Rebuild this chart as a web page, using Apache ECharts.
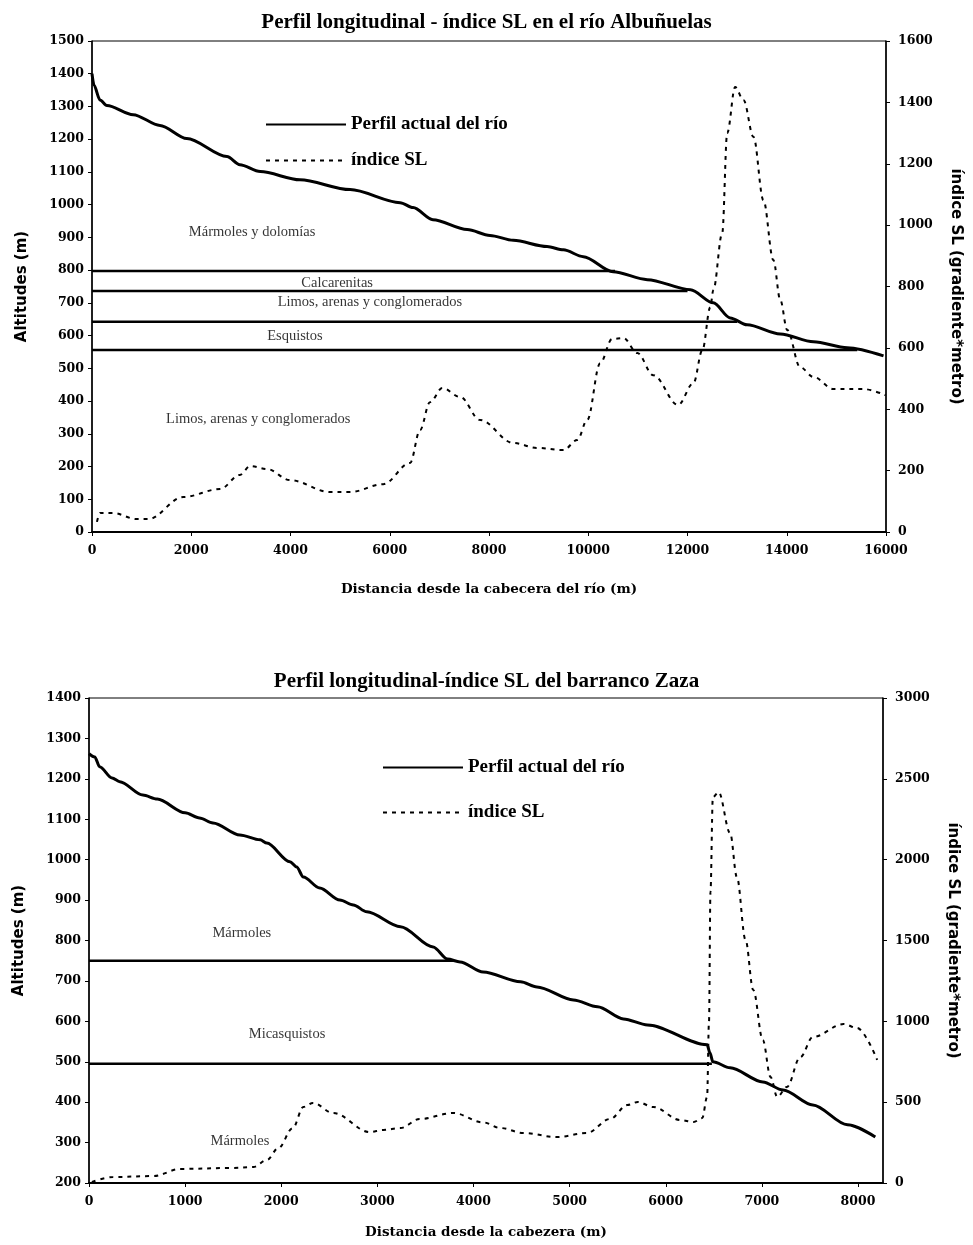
<!DOCTYPE html>
<html>
<head>
<meta charset="utf-8">
<script src="https://cdn.jsdelivr.net/npm/echarts@6/dist/echarts.min.js"></script>
<style>
html,body{margin:0;padding:0;background:#fff;}
#c1{position:absolute;left:0;top:0;width:973px;height:620px;}
#c2{position:absolute;left:0;top:620px;width:973px;height:625px;}
</style>
</head>
<body>
<div id="c1"></div>
<div id="c2"></div>
<script>
// ---------- Chart A: río Albuñuelas ----------
const titleA = 'Perfil longitudinal - índice SL en el río Albuñuelas';
const xNameA = 'Distancia desde la cabecera del río (m)';
const profA_x = [0, 40, 160, 300, 830, 1370, 1910, 2720, 2980, 3390, 4190, 5200, 6210, 6470, 6870, 7560, 8020, 8490, 9170, 9500, 9900, 10500, 11190, 12060, 12520, 12860, 13200, 13870, 14540, 15220, 15950];
const profA_y = [1400, 1365, 1320, 1303, 1275, 1242, 1202, 1147, 1122, 1101, 1076, 1046, 1006, 991, 954, 924, 906, 891, 872, 862, 841, 795, 771, 740, 700, 654, 633, 605, 581, 563, 538];
const slA_x = [100, 160, 420, 900, 1130, 1840, 2580, 2980, 3190, 3530, 3990, 4800, 5200, 5870, 6410, 6610, 6810, 7060, 7420, 7820, 8490, 8970, 9500, 9780, 9980, 10240, 10480, 10710, 10990, 11310, 11810, 12120, 12300, 12460, 12520, 12700, 12800, 12960, 13130, 13330, 13530, 13730, 13870, 14010, 14270, 14540, 14940, 15540, 15990];
const slA_y = [33, 62, 62, 42, 42, 114, 140, 186, 215, 205, 169, 130, 130, 156, 225, 332, 423, 469, 440, 365, 290, 274, 267, 300, 365, 550, 629, 632, 583, 511, 414, 485, 593, 733, 788, 974, 1300, 1450, 1407, 1287, 1081, 886, 756, 658, 537, 505, 466, 466, 446];
const layerA_alt = [797, 736, 642, 556];
const layerA_end = [10540, 12000, 13000, 15420];
const labelA_text = ['Mármoles y dolomías', 'Calcarenitas', 'Limos, arenas y conglomerados', 'Esquistos', 'Limos, arenas y conglomerados'];
const labelA_x = [3226, 4940, 5600, 4090, 3350];
const labelA_y = [917, 761, 703, 599, 346];

// ---------- Chart B: barranco Zaza ----------
const titleB = 'Perfil longitudinal-índice SL del barranco Zaza';
const xNameB = 'Distancia desde la cabezera (m)';
const profB_x = [0, 60, 110, 240, 320, 560, 710, 1000, 1150, 1290, 1570, 1780, 1850, 2090, 2160, 2230, 2400, 2610, 2750, 2890, 3240, 3580, 3730, 3860, 4100, 4490, 4660, 5040, 5290, 5560, 5810, 6430, 6460, 6490, 6670, 7010, 7220, 7530, 7890, 8180];
const profB_y = [1262, 1254, 1230, 1202, 1193, 1160, 1150, 1116, 1103, 1091, 1061, 1049, 1041, 995, 982, 957, 930, 900, 888, 871, 834, 784, 754, 747, 722, 698, 685, 653, 636, 606, 591, 542, 522, 500, 485, 450, 430, 393, 344, 314];
const slB_x = [30, 250, 670, 950, 1500, 1710, 1850, 1970, 2120, 2230, 2330, 2540, 2920, 3060, 3240, 3440, 3790, 4100, 4280, 4520, 4870, 5180, 5420, 5600, 5710, 5870, 6150, 6290, 6380, 6430, 6450, 6465, 6490, 6550, 6670, 6740, 6830, 6910, 7010, 7090, 7160, 7260, 7400, 7530, 7850, 7990, 8200];
const slB_y = [6, 37, 43, 87, 93, 99, 142, 216, 340, 470, 495, 433, 315, 328, 340, 396, 433, 375, 340, 309, 284, 309, 396, 482, 501, 470, 390, 377, 402, 532, 1000, 1800, 2387, 2418, 2164, 1892, 1503, 1194, 884, 656, 532, 594, 779, 903, 983, 959, 761];
const layerB_alt = [750, 495];
const layerB_end = [3790, 6480];
const labelB_text = ['Mármoles', 'Micasquistos', 'Mármoles'];
const labelB_x = [1590, 2060, 1570];
const labelB_y = [819, 569, 304];

const legendNames = ['Perfil actual del río', 'índice SL'];
const yNameL = 'Altitudes (m)';
const yNameR = 'índice SL (gradiente*metro)';

const zip = (a, b) => a.map((v, i) => [v, b[i]]);
const serif = 'Liberation Serif';
const tickFont = {fontFamily: 'DejaVu Serif', fontWeight: 'bold', fontSize: 12.5, color: '#000', formatter: v => String(v)};

function build(cfg) {
  const series = [];
  series.push({
    name: legendNames[0], type: 'line', xAxisIndex: 0, yAxisIndex: 0,
    data: zip(cfg.profX, cfg.profY), showSymbol: false, symbol: 'none',
    smooth: 0.3, smoothMonotone: 'x',
    itemStyle: {color: '#000'},
    lineStyle: {color: '#000', width: 3}, z: 5
  });
  series.push({
    name: legendNames[1], type: 'line', xAxisIndex: 0, yAxisIndex: 1,
    data: zip(cfg.slX, cfg.slY), showSymbol: false, symbol: 'none',
    smooth: 0.35, smoothMonotone: 'x',
    itemStyle: {color: '#000'},
    lineStyle: {color: '#000', width: 2, type: [4, 5]}, z: 4
  });
  cfg.layerAlt.forEach((alt, i) => {
    series.push({
      type: 'line', xAxisIndex: 0, yAxisIndex: 0, silent: true,
      data: [[0, alt], [cfg.layerEnd[i], alt]], showSymbol: false, symbol: 'none',
      lineStyle: {color: '#000', width: 2.5}, z: 3
    });
  });
  series.push({
    type: 'scatter', xAxisIndex: 0, yAxisIndex: 0, silent: true,
    symbolSize: 1, itemStyle: {color: 'rgba(0,0,0,0)'},
    data: cfg.labText.map((t, i) => ({name: t, value: [cfg.labX[i], cfg.labY[i]]})),
    label: {show: true, position: 'inside', formatter: p => p.name,
      fontFamily: serif, fontSize: 14.5, color: '#000', textBorderWidth: 0},
    z: 6
  });
  return {
    animation: false,
    backgroundColor: '#fff',
    title: {text: cfg.title, left: 'center', top: cfg.titleTop,
      textStyle: {fontFamily: serif, fontWeight: 'bold', fontSize: 21, color: '#000'}},
    legend: {
      data: legendNames, orient: 'vertical', left: cfg.legLeft, top: cfg.legTop,
      itemWidth: 80, itemHeight: 14, itemGap: cfg.legGap, selectedMode: false,
      itemStyle: {opacity: 0},
      textStyle: {fontFamily: serif, fontWeight: 'bold', fontSize: 19, color: '#000'}
    },
    grid: {left: cfg.grid[0], right: cfg.grid[1], top: cfg.grid[2], bottom: cfg.grid[3],
      show: true, borderColor: '#000', borderWidth: 1, backgroundColor: 'transparent'},
    xAxis: [{
      type: 'value', min: 0, max: cfg.xMax, interval: cfg.xInt,
      name: cfg.xName, nameLocation: 'middle', nameGap: cfg.xNameGap,
      nameTextStyle: {fontFamily: 'DejaVu Serif', fontWeight: 'bold', fontSize: 13.5, color: '#000'},
      axisLine: {lineStyle: {color: '#000', width: 2}},
      axisTick: {show: true, length: 4, lineStyle: {color: '#000'}},
      axisLabel: Object.assign({margin: 12, showMaxLabel: cfg.showMax}, tickFont),
      splitLine: {show: false}
    }],
    yAxis: [{
      type: 'value', min: cfg.yMin, max: cfg.yMax, interval: 100, position: 'left',
      name: yNameL, nameLocation: 'middle', nameGap: 62, nameRotate: 90,
      nameTextStyle: {fontFamily: 'DejaVu Sans', fontWeight: 'bold', fontSize: 15, color: '#000'},
      axisLine: {show: true, lineStyle: {color: '#000', width: 1.5}},
      axisTick: {show: true, length: 4, lineStyle: {color: '#000'}},
      axisLabel: Object.assign({margin: 8}, tickFont),
      splitLine: {show: false}
    }, {
      type: 'value', min: 0, max: cfg.y2Max, interval: cfg.y2Int, position: 'right',
      name: yNameR, nameLocation: 'middle', nameGap: 62, nameRotate: -90,
      nameTextStyle: {fontFamily: 'DejaVu Sans', fontWeight: 'bold', fontSize: 15, color: '#000'},
      axisLine: {show: true, lineStyle: {color: '#000', width: 1.5}},
      axisTick: {show: true, length: 4, lineStyle: {color: '#000'}},
      axisLabel: Object.assign({margin: 12}, tickFont),
      splitLine: {show: false}
    }],
    series: series
  };
}

const chA = echarts.init(document.getElementById('c1'));
chA.setOption(build({
  title: titleA, titleTop: 7, xName: xNameA, xNameGap: 50,
  legLeft: 260, legTop: 110, legGap: 17,
  grid: [92, 87, 41, 88], xMax: 16000, xInt: 2000, showMax: true,
  yMin: 0, yMax: 1500, y2Max: 1600, y2Int: 200,
  profX: profA_x, profY: profA_y, slX: slA_x, slY: slA_y,
  layerAlt: layerA_alt, layerEnd: layerA_end,
  labText: labelA_text, labX: labelA_x, labY: labelA_y
}));

const chB = echarts.init(document.getElementById('c2'));
chB.setOption(build({
  title: titleB, titleTop: 46, xName: xNameB, xNameGap: 42,
  legLeft: 377, legTop: 133, legGap: 26,
  grid: [89, 90, 78, 62], xMax: 8260, xInt: 1000, showMax: false,
  yMin: 200, yMax: 1400, y2Max: 3000, y2Int: 500,
  profX: profB_x, profY: profB_y, slX: slB_x, slY: slB_y,
  layerAlt: layerB_alt, layerEnd: layerB_end,
  labText: labelB_text, labX: labelB_x, labY: labelB_y
}));
</script>
</body>
</html>
